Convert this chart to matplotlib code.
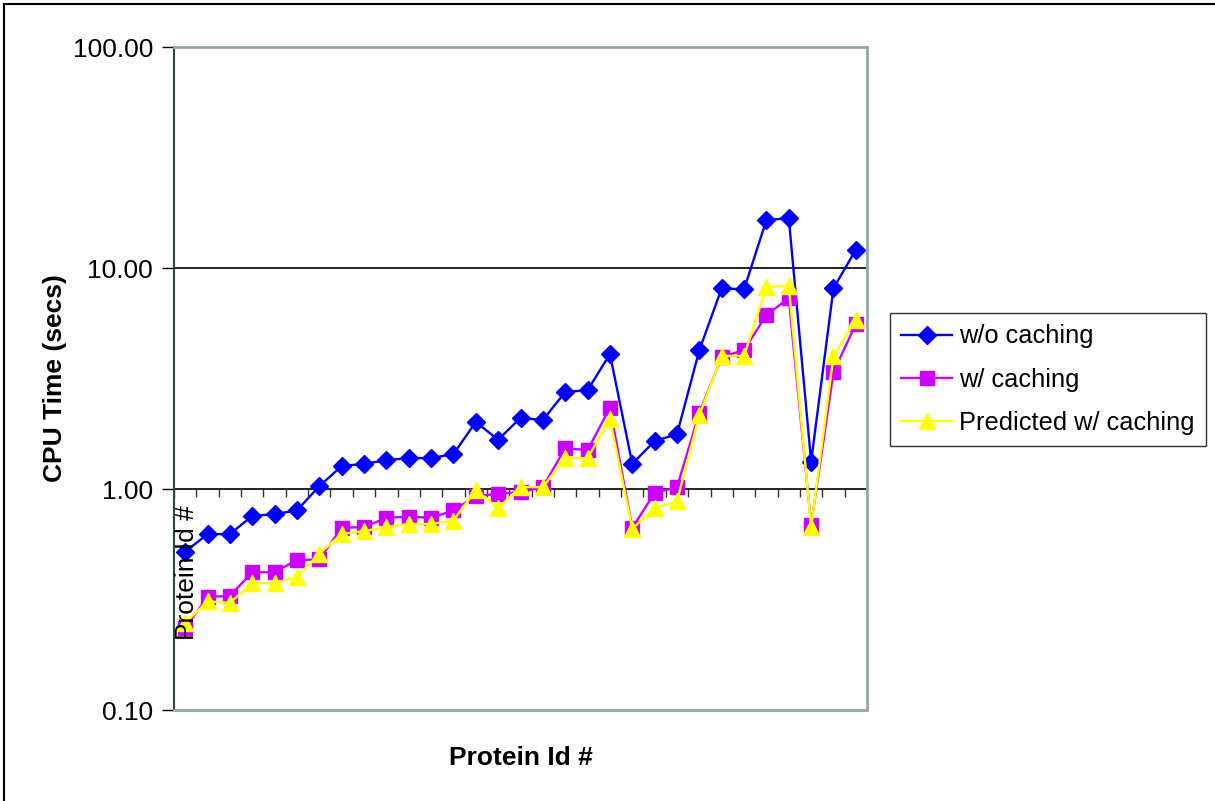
import matplotlib
matplotlib.use("Agg")
import matplotlib.pyplot as plt
from matplotlib.patches import Rectangle
from matplotlib.ticker import FixedLocator, FuncFormatter, NullLocator
import numpy as np

plt.rcParams["font.family"] = ["Liberation Sans", "DejaVu Sans"]

# values, one per protein (31 proteins)
without_caching = [0.52, 0.625, 0.625, 0.755, 0.77, 0.80, 1.03, 1.27, 1.30, 1.35,
                   1.38, 1.38, 1.44, 2.01, 1.67, 2.10, 2.05, 2.75, 2.80, 4.08,
                   1.30, 1.65, 1.77, 4.25, 8.1, 8.0, 16.5, 16.8, 1.33, 8.1, 12.1]
with_caching = [0.235, 0.325, 0.328, 0.42, 0.42, 0.477, 0.48, 0.667, 0.673, 0.74,
                0.75, 0.74, 0.80, 0.93, 0.95, 0.97, 1.02, 1.53, 1.50, 2.33,
                0.667, 0.96, 1.02, 2.21, 3.96, 4.25, 6.13, 7.3, 0.687, 3.38, 5.58]
predicted_caching = [0.248, 0.31, 0.305, 0.375, 0.375, 0.40, 0.51, 0.625, 0.645, 0.673,
                     0.694, 0.694, 0.72, 0.99, 0.82, 1.02, 1.02, 1.38, 1.38, 2.07,
                     0.66, 0.82, 0.88, 2.16, 4.0, 4.0, 8.2, 8.3, 0.67, 4.0, 5.82]
series_names = ["w/o caching", "w/ caching", "Predicted w/ caching"]
y_ticks = [0.1, 1, 10, 100]

FS = 19
GREY = "#95a7a7"

fig = plt.figure(figsize=(12.15, 8.01), dpi=100)
ax = fig.add_axes([0.1432, 0.1136, 0.5704, 0.8277])

x = np.arange(len(without_caching))
ax.plot(x, without_caching, color="#0000ff", lw=1.7, marker="D", ms=9.5,
        label=series_names[0], zorder=3)
ax.plot(x, with_caching, color="#cc00ff", lw=1.7, marker="s", ms=10,
        label=series_names[1], zorder=4)
ax.plot(x, predicted_caching, color="#ffff00", lw=1.7, marker="^", ms=11,
        label=series_names[2], zorder=5)

ax.set_yscale("log")
ax.set_ylim(0.1, 100)
ax.set_xlim(-0.5, len(x) - 0.5)
ax.yaxis.set_major_locator(FixedLocator(y_ticks))
ax.yaxis.set_minor_locator(NullLocator())
ax.yaxis.set_major_formatter(FuncFormatter(lambda v, p: f"{v:.2f}"))
ax.tick_params(axis="y", labelsize=FS, length=9, width=1, color="black", pad=6)

# x axis: no tick labels, the category axis crosses at 1.0
ax.set_xticks([])
for y in [1, 10]:
    ax.axhline(y, color="black", lw=1.2, zorder=2)
ax.vlines(np.arange(len(x) + 1) - 0.5, 10 ** (-8 / 221), 1, color="#333333",
          lw=1, zorder=2)

for side in ["top", "right", "bottom"]:
    ax.spines[side].set_color(GREY)
    ax.spines[side].set_linewidth(2)
ax.spines["left"].set_color("#334444")
ax.spines["left"].set_linewidth(1.5)

ax.set_ylabel("CPU Time (secs)", fontsize=FS, fontweight="bold", labelpad=4)
ax.set_xlabel("Protein Id #", fontsize=FS, fontweight="bold", labelpad=26)

# stray rotated category label inside the plot
ax.annotate("Protein Id #", xy=(0, 1), xytext=(1, -12), textcoords="offset points",
            rotation=90, ha="center", va="top", fontsize=FS, zorder=6)

leg = fig.legend(loc="upper left", bbox_to_anchor=(890 / 1215, 1 - 313 / 801),
                 fontsize=18.3, frameon=True, fancybox=False, edgecolor="black",
                 handlelength=2.0, borderpad=0.45, labelspacing=0.75,
                 handletextpad=0.25, borderaxespad=0)
leg.get_frame().set_linewidth(1)

fig.patches.append(Rectangle((0.003, -0.1), 1.2, 1.095, transform=fig.transFigure,
                             fill=False, edgecolor="black", lw=1.5))

fig.savefig("out.png", dpi=100, facecolor="white")
